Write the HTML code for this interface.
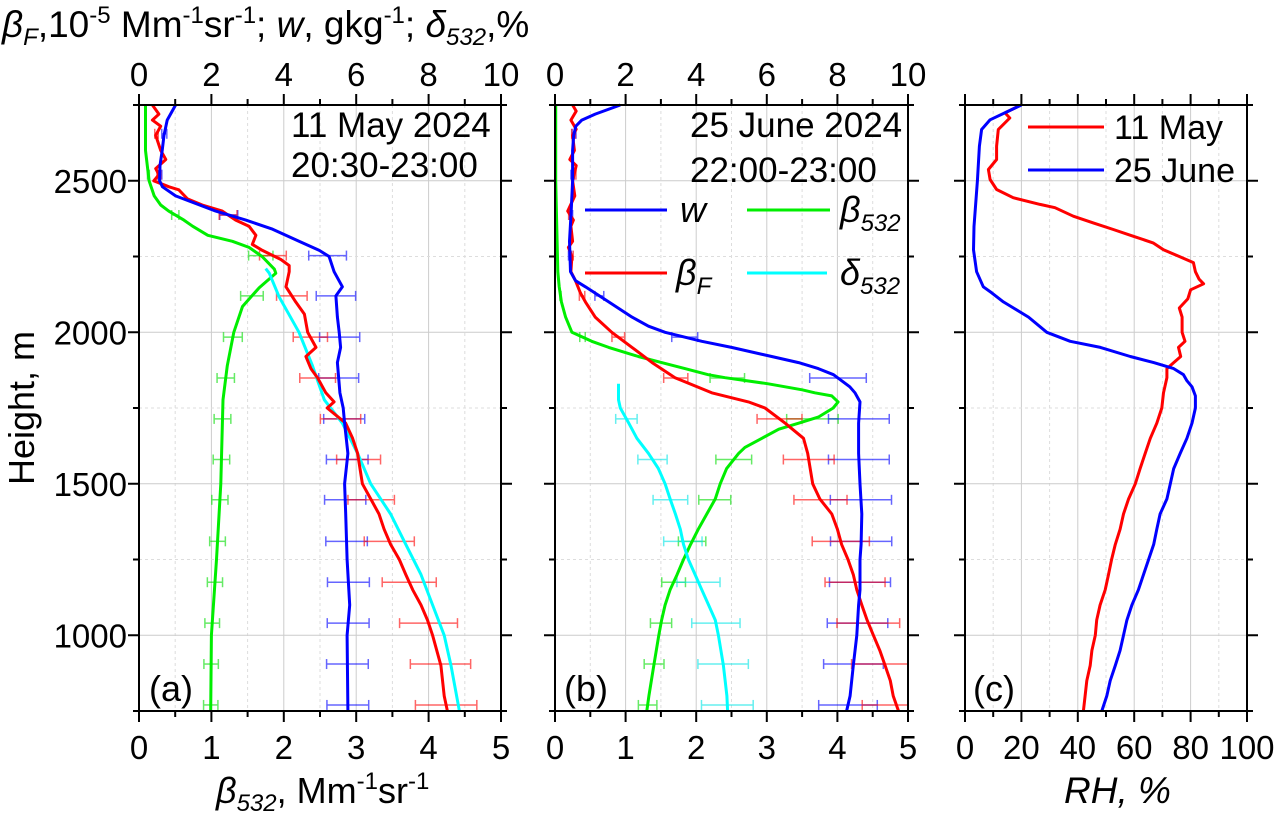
<!DOCTYPE html>
<html><head><meta charset="utf-8"><title>Lidar profiles</title>
<style>
html,body{margin:0;padding:0;background:#fff;}
svg{display:block;font-family:"Liberation Sans",Arial,sans-serif;}
</style></head>
<body>
<svg id="chart" width="1274" height="817" viewBox="0 0 1274 817" xmlns="http://www.w3.org/2000/svg">
  <g id="grids"></g>
  <g id="bars"></g>
  <g id="series"></g>
  <g id="axes"></g>

  <text x="2" y="37" font-size="37"><tspan font-style="italic">β</tspan><tspan font-style="italic" font-size="24" dy="8">F</tspan><tspan dy="-8">,10</tspan><tspan font-size="24" dy="-14">-5</tspan><tspan dy="14"> Mm</tspan><tspan font-size="24" dy="-14">-1</tspan><tspan dy="14">sr</tspan><tspan font-size="24" dy="-14">-1</tspan><tspan dy="14">; </tspan><tspan font-style="italic">w</tspan><tspan>, gkg</tspan><tspan font-size="24" dy="-14">-1</tspan><tspan dy="14">; </tspan><tspan font-style="italic">δ</tspan><tspan font-style="italic" font-size="24" dy="8">532</tspan><tspan dy="-8">,%</tspan></text>

  <text x="216" y="803" font-size="36"><tspan font-style="italic">β</tspan><tspan font-style="italic" font-size="24" dy="8">532</tspan><tspan dy="-8">, Mm</tspan><tspan font-size="24" dy="-14">-1</tspan><tspan dy="14">sr</tspan><tspan font-size="24" dy="-14">-1</tspan></text>
  <text x="1064" y="803" font-size="37" font-style="italic">RH, %</text>
  <text transform="translate(34,408) rotate(-90)" text-anchor="middle" font-size="36">Height, m</text>

  <text x="291" y="137" font-size="35">11 May 2024</text>
  <text x="291" y="177" font-size="35">20:30-23:00</text>
  <text x="690" y="137" font-size="35">25 June 2024</text>
  <text x="690" y="182" font-size="35">22:00-23:00</text>
  <text x="149" y="701" font-size="36">(a)</text>
  <text x="564" y="701" font-size="36">(b)</text>
  <text x="973" y="701" font-size="36">(c)</text>

  <g>
    <line x1="585" y1="210" x2="667" y2="210" stroke="#0000ff" stroke-width="3"/>
    <text x="680" y="222" font-size="36" font-style="italic">w</text>
    <line x1="747" y1="210" x2="830" y2="210" stroke="#00ee00" stroke-width="3"/>
    <text x="840" y="222" font-size="36" font-style="italic">β<tspan font-size="24" dy="9">532</tspan></text>
    <line x1="585" y1="273" x2="667" y2="273" stroke="#ff0000" stroke-width="3"/>
    <text x="676" y="285" font-size="36" font-style="italic">β<tspan font-size="24" dy="9">F</tspan></text>
    <line x1="747" y1="273" x2="827" y2="273" stroke="#00ffff" stroke-width="3"/>
    <text x="840" y="285" font-size="36" font-style="italic">δ<tspan font-size="24" dy="9">532</tspan></text>
  </g>
  <g>
    <line x1="1028" y1="127" x2="1104" y2="127" stroke="#ff0000" stroke-width="3"/>
    <text x="1114" y="139" font-size="34">11 May</text>
    <line x1="1028" y1="170" x2="1104" y2="170" stroke="#0000ff" stroke-width="3"/>
    <text x="1114" y="182" font-size="34">25 June</text>
  </g>
</svg>
<script>
// ---------- data (height m, value) ----------
const aBeta532 = [[2750,0.09],[2600,0.09],[2500,0.14],[2450,0.21],[2420,0.3],[2400,0.41],[2370,0.62],[2350,0.74],[2320,0.95],[2300,1.29],[2280,1.52],[2250,1.7],[2208,1.87],[2195,1.89],[2147,1.66],[2085,1.43],[2000,1.31],[1890,1.22],[1777,1.16],[1500,1.13],[1250,1.07],[1000,1.0],[750,0.99]];
const aW = [[2750,1.01],[2700,0.78],[2650,0.69],[2600,0.64],[2550,0.58],[2500,0.57],[2480,0.65],[2450,1.01],[2400,2.12],[2370,2.95],[2340,3.69],[2300,4.42],[2270,4.98],[2250,5.25],[2200,5.39],[2150,5.62],[2120,5.44],[2050,5.48],[2000,5.53],[1950,5.57],[1900,5.48],[1800,5.55],[1750,5.64],[1700,5.68],[1600,5.77],[1500,5.68],[1400,5.71],[1250,5.75],[1100,5.82],[1000,5.75],[750,5.77]];
const aBetaF = [[2750,0.37],[2720,0.55],[2700,0.37],[2680,0.6],[2650,0.46],[2600,0.6],[2570,0.74],[2540,0.46],[2520,0.55],[2500,0.41],[2480,0.83],[2470,1.1],[2440,1.34],[2420,1.75],[2400,2.3],[2370,2.67],[2350,3.04],[2320,3.23],[2290,3.13],[2270,3.41],[2240,3.92],[2220,4.15],[2200,4.15],[2150,4.06],[2100,4.33],[2060,4.57],[2000,4.66],[1950,4.89],[1920,4.61],[1880,4.75],[1850,4.93],[1800,5.16],[1770,5.39],[1750,5.2],[1700,5.71],[1650,5.9],[1600,6.04],[1500,6.17],[1450,6.4],[1400,6.63],[1350,6.77],[1300,6.95],[1250,7.19],[1200,7.37],[1150,7.56],[1100,7.79],[1050,7.97],[1000,8.11],[900,8.34],[800,8.43],[750,8.52]];
const aDelta532 = [[2210,3.5],[2195,3.6],[2117,3.87],[2000,4.42],[1890,4.79],[1777,5.12],[1700,5.62],[1600,6.04],[1500,6.4],[1400,6.95],[1300,7.37],[1200,7.79],[1100,8.11],[1000,8.43],[900,8.62],[750,8.85]];
const bBeta532 = [[2750,0.01],[2500,0.01],[2300,0.03],[2200,0.04],[2150,0.06],[2100,0.09],[2050,0.15],[2000,0.24],[1970,0.52],[1950,0.76],[1920,1.18],[1900,1.51],[1880,1.84],[1860,2.17],[1850,2.41],[1830,3.02],[1810,3.5],[1800,3.68],[1790,3.92],[1770,4.01],[1750,3.94],[1720,3.73],[1700,3.45],[1680,3.17],[1650,2.93],[1620,2.69],[1600,2.6],[1550,2.43],[1500,2.34],[1450,2.27],[1400,2.15],[1350,2.03],[1300,1.92],[1250,1.82],[1200,1.73],[1150,1.63],[1100,1.56],[1050,1.51],[1000,1.47],[900,1.4],[800,1.33],[750,1.3]];
const bW = [[2750,1.85],[2720,1.14],[2700,0.76],[2680,0.59],[2650,0.53],[2600,0.5],[2500,0.5],[2400,0.46],[2300,0.41],[2200,0.44],[2170,0.58],[2150,0.86],[2100,1.52],[2050,2.18],[2020,2.65],[2000,3.12],[1970,4.16],[1950,5.0],[1920,6.14],[1900,6.9],[1880,7.46],[1860,7.89],[1840,8.12],[1820,8.35],[1800,8.5],[1770,8.64],[1700,8.6],[1600,8.6],[1500,8.64],[1400,8.69],[1300,8.67],[1250,8.64],[1150,8.64],[1100,8.6],[1000,8.55],[900,8.45],[800,8.36],[750,8.26]];
const bBetaF = [[2750,0.5],[2730,0.6],[2700,0.45],[2670,0.6],[2650,0.5],[2600,0.55],[2570,0.42],[2550,0.6],[2500,0.5],[2450,0.56],[2400,0.36],[2370,0.52],[2350,0.45],[2300,0.5],[2280,0.38],[2250,0.48],[2200,0.45],[2170,0.58],[2130,0.72],[2100,0.86],[2050,1.14],[2000,1.61],[1950,2.18],[1900,2.75],[1850,3.4],[1800,4.44],[1770,5.48],[1750,5.95],[1700,6.52],[1650,7.04],[1600,7.16],[1550,7.23],[1500,7.3],[1450,7.5],[1400,7.84],[1350,8.0],[1300,8.12],[1250,8.3],[1200,8.45],[1150,8.55],[1100,8.69],[1050,8.84],[1000,9.02],[950,9.2],[900,9.35],[850,9.5],[800,9.58],[750,9.73]];
const bDelta532 = [[1830,1.8],[1777,1.8],[1750,1.85],[1700,2.09],[1650,2.32],[1600,2.65],[1550,2.93],[1500,3.12],[1450,3.26],[1400,3.41],[1350,3.55],[1300,3.64],[1250,3.78],[1200,3.97],[1150,4.16],[1100,4.35],[1050,4.54],[1000,4.63],[900,4.77],[800,4.87],[750,4.89]];
const cRhMay = [[2743,18.3],[2724,14.2],[2707,15.9],[2669,11.8],[2614,11.2],[2570,11.2],[2537,8.3],[2504,8.9],[2471,11.2],[2444,17.1],[2422,26.6],[2411,31.9],[2383,38.4],[2361,45.5],[2339,52.6],[2317,59.6],[2295,66.7],[2272,70.4],[2250,76],[2230,81],[2200,81.7],[2175,83],[2160,84.6],[2140,80],[2110,79],[2080,76],[2050,77],[2000,77],[1970,78],[1950,75.7],[1920,76.5],[1900,74],[1880,71.6],[1850,71.6],[1800,70.4],[1750,69.8],[1700,68],[1650,65.7],[1600,63.9],[1550,62.1],[1500,60.4],[1450,58],[1400,56.2],[1350,55],[1300,53.3],[1250,52],[1200,50.9],[1150,49.7],[1100,47.9],[1050,46.7],[1000,46.2],[950,45],[900,44.4],[850,43.2],[800,42.6],[750,42]];
const cRhJune = [[2750,20],[2701,8.9],[2669,5.9],[2614,5.1],[2500,4.4],[2349,3.2],[2272,3],[2200,4.1],[2150,6.5],[2130,9.5],[2100,13.6],[2080,17.2],[2050,22.5],[2000,29],[1970,37.3],[1950,48],[1920,58.6],[1900,66.9],[1880,74],[1860,77.5],[1840,78.7],[1820,80.5],[1790,81.7],[1750,81.7],[1700,80.5],[1650,78.7],[1600,76.3],[1550,74],[1500,72.8],[1450,71.6],[1400,69.2],[1350,68],[1300,66.9],[1250,65.1],[1200,63.3],[1150,61.5],[1100,59.2],[1050,57.4],[1000,56.2],[950,55],[900,53.3],[850,51.5],[800,50.3],[750,48.5]];
const errHeights = [770,905,1040,1175,1310,1447,1580,1714,1849,1984,2120,2253,2387,2520,2655];
const relErrDefault = [0.1];
const relErrDelta = [0.15];
const yTicks = [750,1000,1250,1500,1750,2000,2250,2500,2750];
const yTickLabels = ["1000","1500","2000","2500"];
const xTickLabelsBeta = ["0","1","2","3","4","5"];
const xTickLabelsTop = ["0","2","4","6","8","10"];
const xTickLabelsRH = ["0","20","40","60","80","100"];

const NS = "http://www.w3.org/2000/svg";
const Y0 = 105, Y1 = 711;
const hMin = 750, hMax = 2750;
const yOf = h => Y1 - (h - hMin) / (hMax - hMin) * (Y1 - Y0);
const P = {a:{x0:139,x1:501}, b:{x0:555,x1:908}, c:{x0:965,x1:1247}};
const xOf = (p, v, max) => p.x0 + v / max * (p.x1 - p.x0);

function el(tag, attrs, parent){
  const e = document.createElementNS(NS, tag);
  for (const k in attrs) e.setAttribute(k, attrs[k]);
  parent.appendChild(e);
  return e;
}
const gGrid = document.getElementById('grids');
const gBars = document.getElementById('bars');
const gSer = document.getElementById('series');
const gAx = document.getElementById('axes');

function interp(arr, h){
  for (let i = 0; i < arr.length - 1; i++){
    const [h0,v0] = arr[i], [h1,v1] = arr[i+1];
    if ((h <= h0 && h >= h1) || (h >= h0 && h <= h1)){
      if (h0 === h1) return v0;
      return v0 + (v1 - v0) * (h - h0) / (h1 - h0);
    }
  }
  return null;
}

function drawPanel(key, labelsBottom, labelsTop, showLeftLabels){
  const p = P[key];
  for (let i = 1; i < 10; i++){
    const x = p.x0 + i/10*(p.x1-p.x0);
    const g = el('line', {x1:x, y1:Y0, x2:x, y2:Y1, stroke: i%2===0 ? '#cccccc' : '#dddddd', 'stroke-width':1, 'stroke-dasharray': i%2===0 ? 'none' : '3,3'}, gGrid);
    
    
  }
  yTicks.forEach(h => {
    if (h === hMin || h === hMax) return;
    const y = yOf(h);
    const g = el('line', {x1:p.x0, y1:y, x2:p.x1, y2:y, stroke: h%500===0 ? '#cccccc' : '#dddddd', 'stroke-width':1, 'stroke-dasharray': h%500===0 ? 'none' : '3,3'}, gGrid);
    
    
  });
  const fr = el('rect', {x:p.x0, y:Y0, width:p.x1-p.x0, height:Y1-Y0, fill:'none', stroke:'#000', 'stroke-width':2}, gAx);
  
  
  for (let i = 0; i <= 10; i++){
    const x = p.x0 + i/10*(p.x1-p.x0);
    const len = i%2===0 ? 11 : 6;
    const t1 = el('line', {x1:x, y1:Y1, x2:x, y2:Y1+len, stroke:'#000', 'stroke-width':2}, gAx);
    
    
    const t2 = el('line', {x1:x, y1:Y0, x2:x, y2:Y0-len, stroke:'#000', 'stroke-width':2}, gAx);
    
    
    if (i%2===0){
      const lb = el('text', {x:x, y:759, 'text-anchor':'middle', 'font-size':33}, gAx);
      lb.textContent = labelsBottom[i/2];
      
      
      if (labelsTop){
        const lt = el('text', {x:x, y:86, 'text-anchor':'middle', 'font-size':33}, gAx);
        lt.textContent = labelsTop[i/2];
        
        
      }
    }
  }
  yTicks.forEach(h => {
    const y = yOf(h);
    const len = h%500===0 ? 11 : 6;
    const t1 = el('line', {x1:p.x0, y1:y, x2:p.x0-len, y2:y, stroke:'#000', 'stroke-width':2}, gAx);
    
    
    const t2 = el('line', {x1:p.x1, y1:y, x2:p.x1+len, y2:y, stroke:'#000', 'stroke-width':2}, gAx);
    
    
  });
  if (showLeftLabels){
    yTickLabels.forEach(s => {
      const lb = el('text', {x:p.x0-12, y:yOf(+s)+12, 'text-anchor':'end', 'font-size':33}, gAx);
      lb.textContent = s;
      
      
    });
  }
}

function drawSeries(key, data, max, color, name){
  const p = P[key];
  const pts = data.map(([h,v]) => xOf(p,v,max).toFixed(1) + ',' + yOf(h).toFixed(1)).join(' ');
  const pl = el('polyline', {points:pts, fill:'none', stroke:color, 'stroke-width':3, 'stroke-linejoin':'round'}, gSer);
  
  
}

function drawErr(key, data, max, color, rel, name){
  const p = P[key];
  errHeights.forEach(h => {
    const v = interp(data, h);
    if (v === null) return;
    const e = v * rel[0];
    const xa = xOf(p, v - e, max), xb = Math.min(xOf(p, v + e, max), p.x1), y = yOf(h);
    const g = el('g', {stroke:color, 'stroke-width':1.5, opacity:0.6}, gBars);
    
    
    el('line', {x1:xa, y1:y, x2:xb, y2:y}, g);
    el('line', {x1:xa, y1:y-5, x2:xa, y2:y+5}, g);
    if (xOf(p, v + e, max) <= p.x1) el('line', {x1:xb, y1:y-5, x2:xb, y2:y+5}, g);
  });
}

drawPanel('a', xTickLabelsBeta, xTickLabelsTop, true);
drawPanel('b', xTickLabelsBeta, xTickLabelsTop, false);
drawPanel('c', xTickLabelsRH, null, false);

drawErr('a', aBeta532, 5, '#00dd00', relErrDefault, 'error-bar-a-beta532');
drawErr('a', aW, 10, '#0000ff', relErrDefault, 'error-bar-a-w');
drawErr('a', aBetaF, 10, '#ff0000', relErrDefault, 'error-bar-a-betaF');
drawErr('b', bBeta532, 5, '#00dd00', relErrDefault, 'error-bar-b-beta532');
drawErr('b', bW, 10, '#0000ff', relErrDefault, 'error-bar-b-w');
drawErr('b', bBetaF, 10, '#ff0000', relErrDefault, 'error-bar-b-betaF');
drawErr('b', bDelta532, 10, '#00e5e5', relErrDelta, 'error-bar-b-delta532');

drawSeries('a', aBeta532, 5, '#00ee00', 'series-a-beta532');
drawSeries('a', aDelta532, 10, '#00ffff', 'series-a-delta532');
drawSeries('a', aBetaF, 10, '#ff0000', 'series-a-betaF');
drawSeries('a', aW, 10, '#0000ff', 'series-a-w');
drawSeries('b', bBeta532, 5, '#00ee00', 'series-b-beta532');
drawSeries('b', bDelta532, 10, '#00ffff', 'series-b-delta532');
drawSeries('b', bBetaF, 10, '#ff0000', 'series-b-betaF');
drawSeries('b', bW, 10, '#0000ff', 'series-b-w');
drawSeries('c', cRhMay, 100, '#ff0000', 'series-c-rh-11-may');
drawSeries('c', cRhJune, 100, '#0000ff', 'series-c-rh-25-june');
</script>
</body></html>
